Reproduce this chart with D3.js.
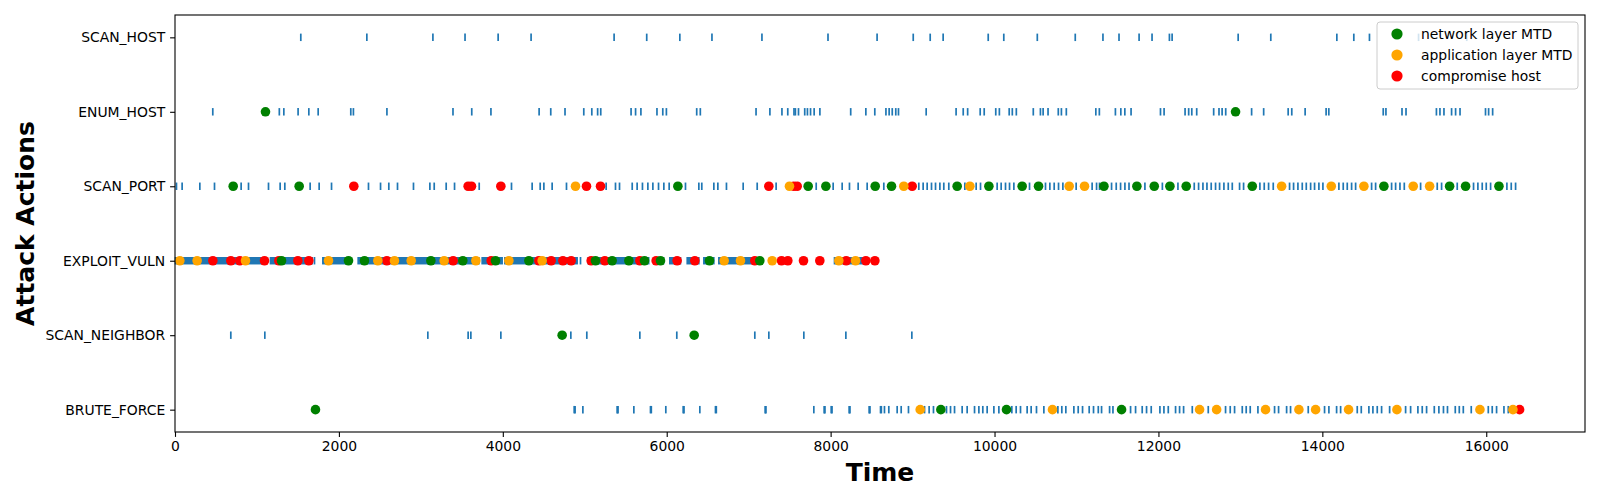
<!DOCTYPE html>
<html>
<head>
<meta charset="utf-8">
<script src="https://cdn.jsdelivr.net/npm/d3@7"></script>
<style>
    body { margin: 0; background: #fff; }
    svg text { font-family: "DejaVu Sans", sans-serif; }
</style>
</head>
<body>
<svg id="chart" width="1600" height="500"></svg>
<script>
// categories, bottom to top
var actions = ['BRUTE_FORCE', 'SCAN_NEIGHBOR', 'EXPLOIT_VULN', 'SCAN_PORT', 'ENUM_HOST', 'SCAN_HOST'];
var timeTicks = [0, 2000, 4000, 6000, 8000, 10000, 12000, 14000, 16000];

// event times per action
var scanHostTimes = [1535, 2341, 3147, 3539, 3943, 4345, 5358, 5756, 6160, 6552, 7162, 7968,
    8567, 9008, 9215, 9373, 9923, 10113, 10522, 10985, 11323, 11519, 11764, 11922, 12134, 12167,
    12973, 13371, 14177, 14384, 14575, 15174, 15762];

var enumHostTimes = [461, 1273, 1328, 1502, 1633, 1747, 2145, 2177, 2586, 3392, 3621, 3855,
    4443, 4585, 4759, 4988, 5086, 5157, 5195, 5565, 5620, 5685, 5881, 5952, 5996, 6366, 6410,
    7090, 7259, 7406, 7477, 7553, 7570, 7608, 7684, 7717, 7755, 7799, 7869, 8245,
    8430, 8539, 8675, 8714, 8752, 8795, 8828, 9166, 9531, 9618, 9672, 9825, 9874, 10015, 10059,
    10179, 10217, 10266, 10473, 10560, 10593, 10653, 10778, 10816, 10876, 11236, 11279, 11475,
    11541, 11590, 11666, 12025, 12069, 12325, 12369, 12407, 12467, 12674, 12739, 12777, 12821,
    13137, 13284, 13583, 13627, 13790, 14046, 14079, 14743, 14776, 14972, 15021, 15392, 15435,
    15484, 15577, 15626, 15680, 15991, 16029, 16078];

var scanPortTimes = [18, 87, 303, 482, 807, 897, 1141, 1283, 1340, 1649, 1759, 1910, 2361, 2508,
    2609, 2715, 2910, 3110, 3163, 3309, 3411, 3712, 4106, 4358, 4456, 4501, 4602, 4777, 5261,
    5375, 5424, 5579, 5639, 5704, 5770, 5831, 5900, 5965, 6030, 6229, 6392, 6428, 6575, 6624,
    6729, 6933, 7104, 7335, 7824, 8031, 8141, 8230, 8336, 8446, 8649, 9076, 9129, 9178, 9231,
    9280, 9333, 9381, 9442, 9638, 9776, 9829, 10032, 10081, 10134, 10183, 10236, 10427, 10622,
    10675, 10728, 10781, 10834, 10996, 11191, 11245, 11281, 11428, 11485, 11538, 11591, 11641,
    11835, 12048, 12238, 12437, 12490, 12543, 12592, 12644, 12697, 12746, 12799, 12852, 12901,
    12990, 13039, 13238, 13291, 13344, 13401, 13600, 13649, 13702, 13755, 13804, 13857, 13905,
    13958, 14007, 14202, 14255, 14304, 14357, 14406, 14601, 14650, 14845, 14894, 14947, 15000,
    15199, 15402, 15455, 15646, 15845, 15898, 15951, 16000, 16053, 16252, 16305, 16358];

// exploit events come in bursts too dense to separate: [start, end] of each burst
var exploitVulnRuns = [[6, 1104], [1165, 1674], [1804, 2081], [2235, 3708], [3748, 3992],
    [4025, 4907], [5042, 5780], [6038, 6168], [6250, 6392], [6453, 6575], [6636, 7165], [8047, 8400]];
var exploitVulnTimes = [1702, 4948, 5960];

var scanNeighborTimes = [681, 1096, 3085, 3577, 3610, 3976, 4830, 5025, 5672, 6123, 7075, 7246,
    7673, 8186, 8991];

var bruteForceTimes = [4871, 4882, 4977, 5395, 5406, 5599, 5802, 5812, 5989, 6201, 6211, 6404,
    6595, 6605, 7201, 7211, 7795, 7921, 7931, 8007, 8017, 8226, 8236, 8470, 8480, 8609, 8619,
    8657, 8710, 8812, 8861, 8950, 9146, 9202, 9255, 9414, 9463, 9512, 9605, 9666, 9756, 9809,
    9857, 9910, 9992, 10053, 10211, 10264, 10317, 10398, 10447, 10512, 10602, 10773, 10821,
    10870, 10968, 11021, 11074, 11155, 11208, 11266, 11306, 11404, 11445, 11660, 11721, 11802,
    11855, 11912, 12018, 12067, 12120, 12209, 12258, 12307, 12413, 12608, 12819, 12876, 12929,
    13023, 13071, 13120, 13214, 13417, 13466, 13564, 13612, 13828, 14027, 14080, 14174, 14223,
    14426, 14475, 14568, 14617, 14670, 14723, 14821, 15016, 15077, 15166, 15219, 15272, 15366,
    15422, 15478, 15527, 15622, 15671, 15720, 15817, 16025, 16073, 16126, 16216, 16269];

// markers: [time, action]
var networkMtd = [[1104, 'ENUM_HOST'], [12941, 'ENUM_HOST'],
    [710, 'SCAN_PORT'], [1515, 'SCAN_PORT'], [6136, 'SCAN_PORT'], [7726, 'SCAN_PORT'], [7942, 'SCAN_PORT'],
    [8544, 'SCAN_PORT'], [8743, 'SCAN_PORT'], [9544, 'SCAN_PORT'], [9931, 'SCAN_PORT'], [10337, 'SCAN_PORT'],
    [10537, 'SCAN_PORT'], [11335, 'SCAN_PORT'], [11737, 'SCAN_PORT'], [11949, 'SCAN_PORT'], [12140, 'SCAN_PORT'],
    [12339, 'SCAN_PORT'], [13145, 'SCAN_PORT'], [14751, 'SCAN_PORT'], [15553, 'SCAN_PORT'], [15748, 'SCAN_PORT'],
    [16155, 'SCAN_PORT'],
    [1300, 'EXPLOIT_VULN'], [2117, 'EXPLOIT_VULN'], [2312, 'EXPLOIT_VULN'], [3122, 'EXPLOIT_VULN'],
    [3512, 'EXPLOIT_VULN'], [3911, 'EXPLOIT_VULN'], [4318, 'EXPLOIT_VULN'], [5131, 'EXPLOIT_VULN'],
    [5334, 'EXPLOIT_VULN'], [5538, 'EXPLOIT_VULN'], [5729, 'EXPLOIT_VULN'], [5924, 'EXPLOIT_VULN'],
    [6522, 'EXPLOIT_VULN'], [7136, 'EXPLOIT_VULN'],
    [4724, 'SCAN_NEIGHBOR'], [6335, 'SCAN_NEIGHBOR'],
    [1714, 'BRUTE_FORCE'], [9345, 'BRUTE_FORCE'], [10146, 'BRUTE_FORCE'], [11550, 'BRUTE_FORCE']];

var applicationMtd = [[4887, 'SCAN_PORT'], [7498, 'SCAN_PORT'], [8893, 'SCAN_PORT'], [9699, 'SCAN_PORT'],
    [10911, 'SCAN_PORT'], [11098, 'SCAN_PORT'], [13503, 'SCAN_PORT'], [14109, 'SCAN_PORT'],
    [14507, 'SCAN_PORT'], [15109, 'SCAN_PORT'], [15309, 'SCAN_PORT'],
    [59, 'EXPLOIT_VULN'], [270, 'EXPLOIT_VULN'], [860, 'EXPLOIT_VULN'], [1873, 'EXPLOIT_VULN'],
    [2475, 'EXPLOIT_VULN'], [2678, 'EXPLOIT_VULN'], [2882, 'EXPLOIT_VULN'], [3284, 'EXPLOIT_VULN'],
    [3671, 'EXPLOIT_VULN'], [4074, 'EXPLOIT_VULN'], [4480, 'EXPLOIT_VULN'], [6701, 'EXPLOIT_VULN'],
    [6900, 'EXPLOIT_VULN'], [7287, 'EXPLOIT_VULN'], [8100, 'EXPLOIT_VULN'], [8304, 'EXPLOIT_VULN'],
    [9093, 'BRUTE_FORCE'], [10707, 'BRUTE_FORCE'], [12502, 'BRUTE_FORCE'], [12710, 'BRUTE_FORCE'],
    [13307, 'BRUTE_FORCE'], [13714, 'BRUTE_FORCE'], [13918, 'BRUTE_FORCE'], [14320, 'BRUTE_FORCE'],
    [14910, 'BRUTE_FORCE'], [15923, 'BRUTE_FORCE'], [16326, 'BRUTE_FORCE']];

var compromiseHost = [[2182, 'SCAN_PORT'], [3577, 'SCAN_PORT'], [3618, 'SCAN_PORT'], [3976, 'SCAN_PORT'],
    [5021, 'SCAN_PORT'], [5192, 'SCAN_PORT'], [7246, 'SCAN_PORT'], [7551, 'SCAN_PORT'],
    [7592, 'SCAN_PORT'], [8995, 'SCAN_PORT'],
    [462, 'EXPLOIT_VULN'], [681, 'EXPLOIT_VULN'], [791, 'EXPLOIT_VULN'], [1092, 'EXPLOIT_VULN'],
    [1267, 'EXPLOIT_VULN'], [1499, 'EXPLOIT_VULN'], [1633, 'EXPLOIT_VULN'], [2585, 'EXPLOIT_VULN'],
    [3394, 'EXPLOIT_VULN'], [3858, 'EXPLOIT_VULN'], [4440, 'EXPLOIT_VULN'], [4590, 'EXPLOIT_VULN'],
    [4733, 'EXPLOIT_VULN'], [4834, 'EXPLOIT_VULN'], [5078, 'EXPLOIT_VULN'], [5245, 'EXPLOIT_VULN'],
    [5672, 'EXPLOIT_VULN'], [5871, 'EXPLOIT_VULN'], [6127, 'EXPLOIT_VULN'], [6343, 'EXPLOIT_VULN'],
    [7075, 'EXPLOIT_VULN'], [7401, 'EXPLOIT_VULN'], [7478, 'EXPLOIT_VULN'], [7669, 'EXPLOIT_VULN'],
    [7868, 'EXPLOIT_VULN'], [8190, 'EXPLOIT_VULN'], [8430, 'EXPLOIT_VULN'], [8540, 'EXPLOIT_VULN'],
    [16407, 'BRUTE_FORCE']];

var seriesNames = ['network layer MTD', 'application layer MTD', 'compromise host'];
var seriesColors = ['green', 'orange', 'red'];

var margin = {top: 15, right: 15, bottom: 68, left: 175},
    width = 1600 - margin.left - margin.right,
    height = 500 - margin.top - margin.bottom;

var svg = d3.select('#chart'),
    g = svg.append('g').attr('transform', 'translate(' + margin.left + ',' + margin.top + ')');

var x = d3.scaleLinear().domain([0, 17205]).range([0, width]);
var y = d3.scaleLinear().domain([-0.3, 5.3]).range([height, 0]);
var row = function(name) { return actions.indexOf(name); };

var eventColor = '#1f77b4',
    halfLen = 0.05;

// event ticks
var eventRows = [
    ['SCAN_HOST', scanHostTimes], ['ENUM_HOST', enumHostTimes], ['SCAN_PORT', scanPortTimes],
    ['EXPLOIT_VULN', exploitVulnTimes], ['SCAN_NEIGHBOR', scanNeighborTimes], ['BRUTE_FORCE', bruteForceTimes]
];
var events = g.append('g');
eventRows.forEach(function(r) {
    events.selectAll(null)
        .data(r[1])
        .enter().append('line')
        .attr('x1', function(d) { return x(d); })
        .attr('x2', function(d) { return x(d); })
        .attr('y1', y(row(r[0]) - halfLen))
        .attr('y2', y(row(r[0]) + halfLen))
        .attr('stroke', eventColor)
        .attr('stroke-width', 1.7);
});

events.selectAll('rect.run')
    .data(exploitVulnRuns)
    .enter().append('rect')
    .attr('class', 'run')
    .attr('x', function(d) { return x(d[0]) - 0.8; })
    .attr('width', function(d) { return x(d[1]) - x(d[0]) + 1.6; })
    .attr('y', y(row('EXPLOIT_VULN') + halfLen))
    .attr('height', y(row('EXPLOIT_VULN') - halfLen) - y(row('EXPLOIT_VULN') + halfLen))
    .attr('fill', eventColor);

// markers (red underneath, orange on top)
var markerSets = [[compromiseHost, 'red'], [networkMtd, 'green'], [applicationMtd, 'orange']];
markerSets.forEach(function(m) {
    g.append('g').selectAll('circle')
        .data(m[0])
        .enter().append('circle')
        .attr('cx', function(d) { return x(d[0]); })
        .attr('cy', function(d) { return y(row(d[1])); })
        .attr('r', 4.8)
        .attr('fill', m[1]);
});

// axes
var xAxis = g.append('g')
    .attr('transform', 'translate(0,' + height + ')')
    .call(d3.axisBottom(x).tickValues(timeTicks).tickFormat(d3.format('d'))
        .tickSize(4.9).tickPadding(4.2).tickSizeOuter(0));

var yAxis = g.append('g')
    .call(d3.axisLeft(y).tickValues(d3.range(actions.length))
        .tickFormat(function(i) { return actions[i]; })
        .tickSize(4.9).tickPadding(4.9).tickSizeOuter(0));

[xAxis, yAxis].forEach(function(a) {
    a.select('.domain').remove();
    a.selectAll('line').attr('stroke', '#000').attr('stroke-width', 1.1);
    a.selectAll('text').attr('font-size', '13.9px').attr('fill', '#000')
        .style('font-family', '"DejaVu Sans", sans-serif');
});

// frame
g.append('rect')
    .attr('width', width).attr('height', height)
    .attr('fill', 'none').attr('stroke', '#000').attr('stroke-width', 1.1);

// axis titles
svg.append('text')
    .attr('x', margin.left + width / 2)
    .attr('y', 481)
    .attr('text-anchor', 'middle')
    .attr('font-size', '25px').attr('font-weight', 'bold')
    .text('Time');

svg.append('text')
    .attr('transform', 'translate(34,' + (margin.top + height / 2) + ') rotate(-90)')
    .attr('text-anchor', 'middle')
    .attr('font-size', '25px').attr('font-weight', 'bold')
    .text('Attack Actions');

// legend
var legend = svg.append('g').attr('transform', 'translate(1377,22)');
legend.append('rect')
    .attr('width', 201).attr('height', 67).attr('rx', 3)
    .attr('fill', '#fff').attr('fill-opacity', 0.8)
    .attr('stroke', '#ccc').attr('stroke-width', 1);

seriesNames.forEach(function(name, i) {
    var item = legend.append('g').attr('transform', 'translate(0,' + (12 + i * 21) + ')');
    item.append('circle').attr('cx', 20).attr('cy', 0).attr('r', 5.6).attr('fill', seriesColors[i]);
    item.append('text').attr('x', 44).attr('y', 0).attr('dy', '0.35em')
        .attr('font-size', '13.9px').text(name);
});
</script>
</body>
</html>
